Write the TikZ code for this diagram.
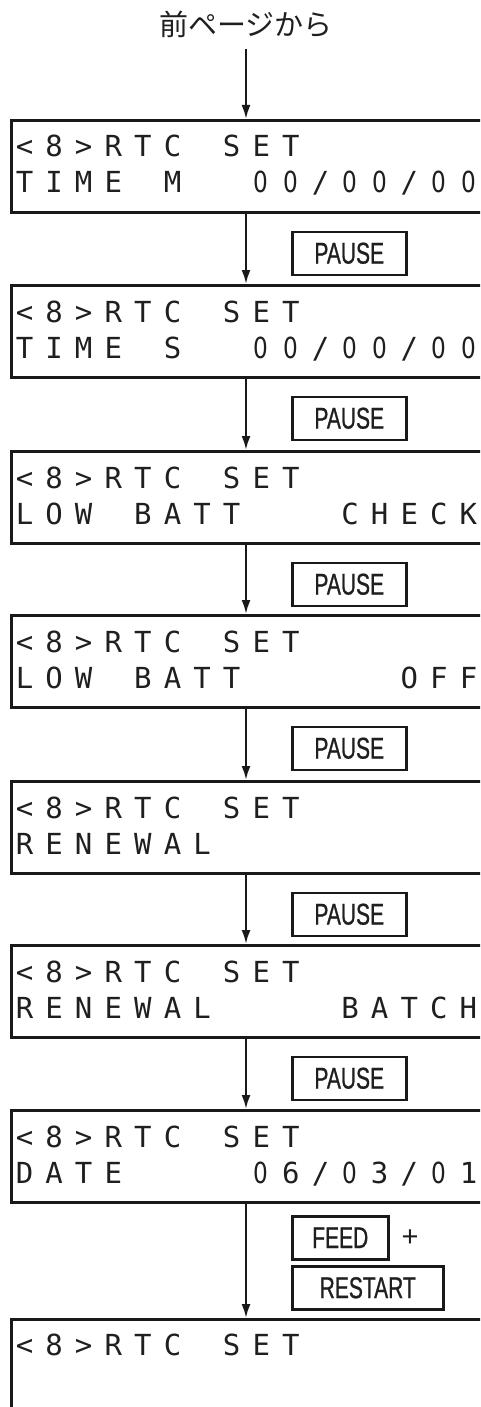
\documentclass[tikz,border=0pt]{standalone}
\usepackage{fontspec}
\usepackage{tikz}
\usetikzlibrary{calc,arrows.meta,positioning}
\newfontfamily\jpfont{Noto Sans CJK JP}
\newfontfamily\lcdfont{DejaVu Sans Mono}
\newfontfamily\zerofont[FakeStretch=0.8]{DejaVu Sans}
\newfontfamily\keyfont[FakeStretch=0.7,FakeBold=0.8]{Liberation Sans}
% one LCD row: every character gets a cell of the same width, '.' is a blank cell
\newcommand\lcdrow[1]{\lcdcell#1\relax}
\def\lcdcell#1{\ifx\relax#1\else\makebox[29.6pt]{\ifx.#1\else\ifx0#1{\zerofont 0}\else#1\fi\fi}\expandafter\lcdcell\fi}

\begin{document}
\begin{tikzpicture}[x=1pt,y=-1pt,>={Latex[length=14pt,width=9pt]},
    lcdbox/.style={draw=black!90,line width=3pt,minimum width=480pt,minimum height=92pt,anchor=north west,inner sep=0pt},
    lcdtext/.style={font=\lcdfont\fontsize{29}{29}\selectfont,text=black!88,inner sep=0pt,anchor=base west},
    keybox/.style={draw=black!90,line width=2.5pt,minimum height=43pt,anchor=north west,inner sep=0pt,font=\keyfont\fontsize{30}{30}\selectfont,text=black!88},
    flow/.style={->,draw=black!90,line width=2.2pt}]
  \clip (0,0) rectangle (480,1407);
  \node[font=\jpfont\fontsize{29}{29}\selectfont,text=black!88,inner sep=0pt] (from) at (246,24) {前ページから};
  % displays
  \node[lcdbox] (b1) at (9.5,119) {};
  \node[lcdbox] (b2) at (9.5,284) {};
  \node[lcdbox] (b3) at (9.5,450) {};
  \node[lcdbox] (b4) at (9.5,614) {};
  \node[lcdbox] (b5) at (9.5,780) {};
  \node[lcdbox] (b6) at (9.5,944) {};
  \node[lcdbox] (b7) at (9.5,1109) {};
  \node[lcdbox] (b8) at (9.5,1318) {};
  \node[lcdtext] (r1a) at ([shift={(0,38)}]b1.north west) {\lcdrow{<8>RTC.SET}};
  \node[lcdtext] (r1b) at ([shift={(0,74)}]b1.north west) {\lcdrow{TIME.M..00/00/00}};
  \node[lcdtext] (r2a) at ([shift={(0,38)}]b2.north west) {\lcdrow{<8>RTC.SET}};
  \node[lcdtext] (r2b) at ([shift={(0,74)}]b2.north west) {\lcdrow{TIME.S..00/00/00}};
  \node[lcdtext] (r3a) at ([shift={(0,38)}]b3.north west) {\lcdrow{<8>RTC.SET}};
  \node[lcdtext] (r3b) at ([shift={(0,74)}]b3.north west) {\lcdrow{LOW.BATT...CHECK}};
  \node[lcdtext] (r4a) at ([shift={(0,38)}]b4.north west) {\lcdrow{<8>RTC.SET}};
  \node[lcdtext] (r4b) at ([shift={(0,74)}]b4.north west) {\lcdrow{LOW.BATT.....OFF}};
  \node[lcdtext] (r5a) at ([shift={(0,38)}]b5.north west) {\lcdrow{<8>RTC.SET}};
  \node[lcdtext] (r5b) at ([shift={(0,74)}]b5.north west) {\lcdrow{RENEWAL}};
  \node[lcdtext] (r6a) at ([shift={(0,38)}]b6.north west) {\lcdrow{<8>RTC.SET}};
  \node[lcdtext] (r6b) at ([shift={(0,74)}]b6.north west) {\lcdrow{RENEWAL....BATCH}};
  \node[lcdtext] (r7a) at ([shift={(0,38)}]b7.north west) {\lcdrow{<8>RTC.SET}};
  \node[lcdtext] (r7b) at ([shift={(0,74)}]b7.north west) {\lcdrow{DATE....06/03/01}};
  \node[lcdtext] (r8a) at ([shift={(0,37)}]b8.north west) {\lcdrow{<8>RTC.SET}};
  % keys
  \node[keybox,minimum width=114pt] (k1) at ([shift={(281.5,16.5)}]b1.south west) {PAUSE};
  \node[keybox,minimum width=114pt] (k2) at ([shift={(281.5,16.5)}]b2.south west) {PAUSE};
  \node[keybox,minimum width=114pt] (k3) at ([shift={(281.5,16.5)}]b3.south west) {PAUSE};
  \node[keybox,minimum width=114pt] (k4) at ([shift={(281.5,16.5)}]b4.south west) {PAUSE};
  \node[keybox,minimum width=114pt] (k5) at ([shift={(281.5,16.5)}]b5.south west) {PAUSE};
  \node[keybox,minimum width=114pt] (k6) at ([shift={(281.5,16.5)}]b6.south west) {PAUSE};
  \node[keybox,minimum width=96pt] (feed) at ([shift={(281.5,11)}]b7.south west) {FEED};
  \node[keybox,minimum width=151pt] (restart) at ([shift={(281.5,61)}]b7.south west) {RESTART};
  \node[font=\fontspec{Liberation Sans}\fontsize{29}{29}\selectfont,text=black!88,inner sep=0pt,right=12pt of feed] (plus) {+};
  % flow
  \draw[flow,shorten <=11pt] (from.south) -- (from.south |- b1.north);
  \draw[flow] (b1.south -| from) -- (b2.north -| from);
  \draw[flow] (b2.south -| from) -- (b3.north -| from);
  \draw[flow] (b3.south -| from) -- (b4.north -| from);
  \draw[flow] (b4.south -| from) -- (b5.north -| from);
  \draw[flow] (b5.south -| from) -- (b6.north -| from);
  \draw[flow] (b6.south -| from) -- (b7.north -| from);
  \draw[flow] (b7.south -| from) -- (b8.north -| from);
\end{tikzpicture}
\end{document}
